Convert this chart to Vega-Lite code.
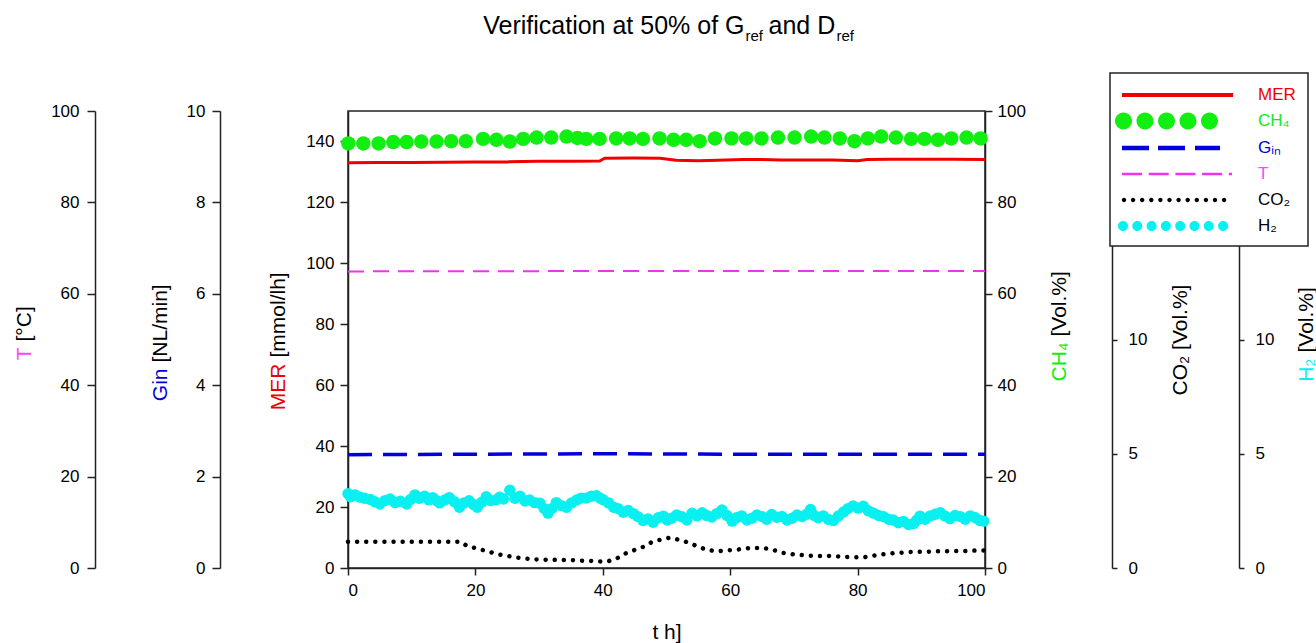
{
  "$schema": "https://vega.github.io/schema/vega-lite/v6.json",
  "width": 637,
  "height": 457,
  "autosize": {"type": "none"},
  "padding": {"left": 348, "top": 111, "right": 331, "bottom": 75},
  "background": "white",
  "config": {
    "font": "Liberation Sans",
    "view": {"stroke": "#222", "strokeWidth": 1.5},
    "axis": {"grid": false, "labelFont": "Liberation Sans", "titleFont": "Liberation Sans", "labelFontSize": 17, "labelColor": "black", "titleFontSize": 21, "titleFontWeight": "normal", "titleColor": "black", "domainColor": "#222", "domainWidth": 1.5, "tickColor": "#222", "tickWidth": 1.5, "tickSize": 8, "labelPadding": 6}
  },
  "datasets": {
    "mer": [{"t":0,"MER":133.0},{"t":5,"MER":133.1},{"t":10,"MER":133.1},{"t":15,"MER":133.2},{"t":20,"MER":133.3},{"t":25,"MER":133.3},{"t":30,"MER":133.5},{"t":35,"MER":133.5},{"t":39.5,"MER":133.6},{"t":40.3,"MER":134.5},{"t":45,"MER":134.6},{"t":49,"MER":134.5},{"t":51.5,"MER":133.8},{"t":55,"MER":133.7},{"t":58,"MER":133.8},{"t":62,"MER":134.1},{"t":65,"MER":134.1},{"t":68,"MER":133.9},{"t":72,"MER":133.9},{"t":76,"MER":133.9},{"t":80,"MER":133.7},{"t":81.5,"MER":134.1},{"t":85,"MER":134.2},{"t":90,"MER":134.2},{"t":95,"MER":134.2},{"t":100,"MER":134.1}],
    "ch4": [{"t":0.05,"CH4":92.9},{"t":2.4,"CH4":92.9},{"t":4.8,"CH4":92.9},{"t":7.1,"CH4":93.2},{"t":9.2,"CH4":93.2},{"t":11.5,"CH4":93.3},{"t":13.9,"CH4":93.3},{"t":16.2,"CH4":93.4},{"t":18.5,"CH4":93.4},{"t":21.2,"CH4":93.9},{"t":23.3,"CH4":93.7},{"t":25.4,"CH4":93.3},{"t":27.5,"CH4":93.9},{"t":29.6,"CH4":94.2},{"t":31.9,"CH4":94.2},{"t":34.3,"CH4":94.4},{"t":36.0,"CH4":94.1},{"t":37.4,"CH4":93.9},{"t":39.5,"CH4":93.9},{"t":42.1,"CH4":94.0},{"t":44.2,"CH4":94.0},{"t":46.3,"CH4":93.9},{"t":48.9,"CH4":94.0},{"t":51.1,"CH4":93.7},{"t":53.1,"CH4":93.7},{"t":55.2,"CH4":93.4},{"t":57.6,"CH4":94.0},{"t":60.2,"CH4":94.0},{"t":62.5,"CH4":94.0},{"t":64.9,"CH4":94.0},{"t":67.5,"CH4":94.2},{"t":70.1,"CH4":94.2},{"t":72.7,"CH4":94.4},{"t":74.8,"CH4":94.2},{"t":77.2,"CH4":94.0},{"t":79.5,"CH4":93.4},{"t":81.6,"CH4":94.0},{"t":83.7,"CH4":94.4},{"t":86.0,"CH4":94.2},{"t":88.4,"CH4":93.9},{"t":90.5,"CH4":93.9},{"t":92.6,"CH4":93.7},{"t":94.7,"CH4":94.0},{"t":97.1,"CH4":94.2},{"t":99.3,"CH4":94.0}],
    "temp": [{"t":0,"T":64.9},{"t":50,"T":65.0},{"t":100,"T":65.0}],
    "gin": [{"t":0,"Gin":2.48},{"t":40,"Gin":2.50},{"t":60,"Gin":2.49},{"t":100,"Gin":2.49}],
    "co2": [{"t":0,"CO2":1.15},{"t":17.7,"CO2":1.15},{"t":18.7,"CO2":0.96},{"t":20.3,"CO2":0.85},{"t":21.9,"CO2":0.73},{"t":23.4,"CO2":0.61},{"t":24.8,"CO2":0.54},{"t":26.2,"CO2":0.47},{"t":27.8,"CO2":0.42},{"t":29.1,"CO2":0.38},{"t":30.6,"CO2":0.36},{"t":31.9,"CO2":0.36},{"t":33.6,"CO2":0.35},{"t":35.0,"CO2":0.35},{"t":36.4,"CO2":0.32},{"t":37.9,"CO2":0.31},{"t":39.3,"CO2":0.29},{"t":40.7,"CO2":0.28},{"t":42.2,"CO2":0.42},{"t":43.6,"CO2":0.64},{"t":45.0,"CO2":0.79},{"t":46.4,"CO2":0.93},{"t":47.8,"CO2":1.15},{"t":49.3,"CO2":1.25},{"t":50.6,"CO2":1.33},{"t":52.0,"CO2":1.23},{"t":53.4,"CO2":1.12},{"t":55.0,"CO2":0.93},{"t":56.4,"CO2":0.79},{"t":57.9,"CO2":0.73},{"t":59.3,"CO2":0.77},{"t":60.7,"CO2":0.79},{"t":62.3,"CO2":0.85},{"t":63.6,"CO2":0.88},{"t":65.0,"CO2":0.88},{"t":66.5,"CO2":0.82},{"t":68.0,"CO2":0.67},{"t":69.5,"CO2":0.61},{"t":71.0,"CO2":0.57},{"t":72.3,"CO2":0.54},{"t":73.8,"CO2":0.53},{"t":75.3,"CO2":0.53},{"t":76.8,"CO2":0.51},{"t":78.2,"CO2":0.48},{"t":79.6,"CO2":0.47},{"t":81.0,"CO2":0.47},{"t":82.5,"CO2":0.54},{"t":84.0,"CO2":0.60},{"t":85.4,"CO2":0.64},{"t":86.8,"CO2":0.67},{"t":88.2,"CO2":0.70},{"t":89.7,"CO2":0.71},{"t":91.1,"CO2":0.71},{"t":92.6,"CO2":0.73},{"t":94.0,"CO2":0.73},{"t":95.4,"CO2":0.74},{"t":96.8,"CO2":0.74},{"t":98.2,"CO2":0.76},{"t":99.8,"CO2":0.77}],
    "h2": [{"t":0.0,"H2":3.25},{"t":0.4,"H2":3.12},{"t":1.1,"H2":3.2},{"t":1.9,"H2":3.1},{"t":2.6,"H2":3.05},{"t":3.5,"H2":3.0},{"t":4.2,"H2":2.9},{"t":5.0,"H2":2.8},{"t":5.8,"H2":2.95},{"t":6.6,"H2":3.02},{"t":7.4,"H2":2.86},{"t":8.2,"H2":2.92},{"t":9.2,"H2":2.8},{"t":9.8,"H2":3.0},{"t":10.5,"H2":3.2},{"t":11.2,"H2":3.05},{"t":12.0,"H2":3.14},{"t":12.7,"H2":2.98},{"t":13.3,"H2":3.08},{"t":14.0,"H2":2.93},{"t":14.4,"H2":2.85},{"t":15.2,"H2":2.98},{"t":15.9,"H2":3.08},{"t":16.7,"H2":2.9},{"t":17.5,"H2":2.66},{"t":18.2,"H2":2.85},{"t":19.0,"H2":2.94},{"t":19.7,"H2":2.78},{"t":20.3,"H2":2.66},{"t":21.0,"H2":2.88},{"t":21.7,"H2":3.12},{"t":22.4,"H2":2.95},{"t":23.2,"H2":2.98},{"t":23.8,"H2":3.1},{"t":24.4,"H2":3.02},{"t":25.4,"H2":3.4},{"t":26.2,"H2":3.05},{"t":27.0,"H2":3.14},{"t":27.8,"H2":2.93},{"t":28.5,"H2":2.98},{"t":29.3,"H2":2.86},{"t":30.1,"H2":2.84},{"t":30.8,"H2":2.6},{"t":31.4,"H2":2.4},{"t":32.0,"H2":2.6},{"t":32.7,"H2":2.86},{"t":33.5,"H2":2.73},{"t":34.3,"H2":2.66},{"t":35.1,"H2":2.85},{"t":35.9,"H2":2.98},{"t":36.6,"H2":3.06},{"t":37.4,"H2":3.06},{"t":38.2,"H2":3.14},{"t":39.0,"H2":3.16},{"t":39.6,"H2":3.05},{"t":40.1,"H2":2.98},{"t":40.9,"H2":2.85},{"t":41.7,"H2":2.66},{"t":42.4,"H2":2.6},{"t":43.2,"H2":2.44},{"t":44.0,"H2":2.52},{"t":44.8,"H2":2.38},{"t":45.5,"H2":2.25},{"t":46.3,"H2":2.08},{"t":47.1,"H2":2.15},{"t":47.9,"H2":2.0},{"t":48.7,"H2":2.2},{"t":49.5,"H2":2.27},{"t":50.1,"H2":2.1},{"t":50.8,"H2":2.18},{"t":51.6,"H2":2.32},{"t":52.4,"H2":2.24},{"t":53.2,"H2":2.1},{"t":54.0,"H2":2.4},{"t":54.8,"H2":2.28},{"t":55.6,"H2":2.42},{"t":56.3,"H2":2.3},{"t":57.1,"H2":2.23},{"t":57.9,"H2":2.38},{"t":58.7,"H2":2.54},{"t":59.5,"H2":2.3},{"t":60.3,"H2":2.05},{"t":61.0,"H2":2.2},{"t":61.8,"H2":2.28},{"t":62.6,"H2":2.1},{"t":63.4,"H2":2.18},{"t":64.2,"H2":2.32},{"t":65.0,"H2":2.25},{"t":65.7,"H2":2.13},{"t":66.5,"H2":2.34},{"t":67.3,"H2":2.22},{"t":68.1,"H2":2.26},{"t":68.9,"H2":2.1},{"t":69.7,"H2":2.18},{"t":70.5,"H2":2.32},{"t":71.3,"H2":2.25},{"t":72.0,"H2":2.35},{"t":72.6,"H2":2.56},{"t":73.2,"H2":2.3},{"t":73.8,"H2":2.2},{"t":74.6,"H2":2.28},{"t":75.4,"H2":2.13},{"t":76.2,"H2":2.08},{"t":77.0,"H2":2.28},{"t":77.8,"H2":2.45},{"t":78.5,"H2":2.6},{"t":79.3,"H2":2.72},{"t":80.1,"H2":2.62},{"t":80.9,"H2":2.7},{"t":81.7,"H2":2.5},{"t":82.5,"H2":2.4},{"t":83.3,"H2":2.3},{"t":84.1,"H2":2.24},{"t":84.9,"H2":2.13},{"t":85.6,"H2":2.1},{"t":86.4,"H2":1.98},{"t":87.2,"H2":2.04},{"t":88.0,"H2":1.9},{"t":88.8,"H2":1.95},{"t":89.3,"H2":2.1},{"t":89.8,"H2":2.27},{"t":90.6,"H2":2.13},{"t":91.4,"H2":2.28},{"t":92.2,"H2":2.35},{"t":93.0,"H2":2.42},{"t":93.7,"H2":2.28},{"t":94.5,"H2":2.16},{"t":95.3,"H2":2.3},{"t":96.1,"H2":2.25},{"t":96.9,"H2":2.13},{"t":97.7,"H2":2.28},{"t":98.5,"H2":2.2},{"t":99.2,"H2":2.08},{"t":99.8,"H2":2.05}],
    "legend": [{"series":"MER"},{"series":"CH₄"},{"series":"Gᵢₙ"},{"series":"T"},{"series":"CO₂"},{"series":"H₂"}]
  },
  "resolve": {"scale": {"y": "independent"}, "axis": {"x": "independent", "y": "independent"}},
  "layer": [
    {
      "data": {"name": "temp"},
      "mark": {"type": "line", "color": "#ee33ee", "strokeWidth": 2, "strokeDash": [16, 9]},
      "encoding": {
        "x": {"field": "t", "type": "quantitative", "scale": {"domain": [0, 100], "nice": false}, "axis": null},
        "y": {"field": "T", "type": "quantitative", "scale": {"domain": [0, 100], "nice": false},
          "axis": {"orient": "left", "offset": 253, "values": [0, 20, 40, 60, 80, 100], "labelPadding": 8, "title": "T", "titleColor": "#ff44ff", "titleAlign": "right", "titleX": -61, "titleY": 236, "titleAngle": 270, "titleBaseline": "bottom"}}
      }
    },
    {
      "data": {"name": "temp"},
      "mark": {"type": "line", "opacity": 0},
      "encoding": {
        "x": {"field": "t", "type": "quantitative", "scale": {"domain": [0, 100], "nice": false},
          "axis": {"orient": "top", "domain": false, "ticks": false, "labels": false, "title": "Verification at 50% of G", "titleFontSize": 25, "titleX": 396, "titleY": -78, "titleAlign": "right", "titleBaseline": "alphabetic", "titleAngle": 0}},
        "y": {"field": "T", "type": "quantitative", "scale": {"domain": [0, 100], "nice": false},
          "axis": {"orient": "left", "offset": 253, "domain": false, "ticks": false, "labels": false, "title": "[°C]", "titleAlign": "left", "titleX": -61, "titleY": 230, "titleAngle": 270, "titleBaseline": "bottom"}}
      }
    },
    {
      "data": {"name": "gin"},
      "mark": {"type": "line", "color": "#0000dd", "strokeWidth": 3.5, "strokeDash": [24, 11]},
      "encoding": {
        "x": {"field": "t", "type": "quantitative", "scale": {"domain": [0, 100], "nice": false}, "axis": null},
        "y": {"field": "Gin", "type": "quantitative", "scale": {"domain": [0, 10], "nice": false},
          "axis": {"orient": "left", "offset": 128, "values": [0, 2, 4, 6, 8, 10], "labelPadding": 7, "title": "Gin", "titleColor": "#0000dd", "titleAlign": "right", "titleX": -50, "titleY": 257, "titleAngle": 270, "titleBaseline": "bottom"}}
      }
    },
    {
      "data": {"name": "gin"},
      "mark": {"type": "line", "opacity": 0},
      "encoding": {
        "x": {"field": "t", "type": "quantitative", "scale": {"domain": [0, 100], "nice": false},
          "axis": {"orient": "top", "domain": false, "ticks": false, "labels": false, "title": "ref", "titleFontSize": 15, "titleX": 397, "titleY": -71, "titleAlign": "left", "titleBaseline": "alphabetic", "titleAngle": 0}},
        "y": {"field": "Gin", "type": "quantitative", "scale": {"domain": [0, 10], "nice": false},
          "axis": {"orient": "left", "offset": 128, "domain": false, "ticks": false, "labels": false, "title": "[NL/min]", "titleAlign": "left", "titleX": -50, "titleY": 251, "titleAngle": 270, "titleBaseline": "bottom"}}
      }
    },
    {
      "data": {"name": "mer"},
      "mark": {"type": "line", "color": "#ee0000", "strokeWidth": 3},
      "encoding": {
        "x": {"field": "t", "type": "quantitative", "scale": {"domain": [0, 100], "nice": false},
          "axis": {"orient": "bottom", "values": [0, 20, 40, 60, 80, 100], "tickSize": 7, "labelPadding": 7, "title": "t h]", "titleX": 318.5, "titleY": 70, "titleAlign": "center", "titleBaseline": "alphabetic"}},
        "y": {"field": "MER", "type": "quantitative", "scale": {"domain": [0, 150], "nice": false},
          "axis": {"orient": "left", "offset": 0, "values": [0, 20, 40, 60, 80, 100, 120, 140], "labelPadding": 6, "title": "MER", "titleColor": "#ee0000", "titleAlign": "right", "titleX": -60, "titleY": 252, "titleAngle": 270, "titleBaseline": "bottom"}}
      }
    },
    {
      "data": {"name": "mer"},
      "mark": {"type": "line", "opacity": 0},
      "encoding": {
        "x": {"field": "t", "type": "quantitative", "scale": {"domain": [0, 100], "nice": false},
          "axis": {"orient": "top", "domain": false, "ticks": false, "labels": false, "title": "and D", "titleFontSize": 25, "titleX": 420, "titleY": -78, "titleAlign": "left", "titleBaseline": "alphabetic", "titleAngle": 0}},
        "y": {"field": "MER", "type": "quantitative", "scale": {"domain": [0, 150], "nice": false},
          "axis": {"orient": "left", "offset": 0, "domain": false, "ticks": false, "labels": false, "title": "[mmol/lh]", "titleAlign": "left", "titleX": -60, "titleY": 246, "titleAngle": 270, "titleBaseline": "bottom"}}
      }
    },
    {
      "data": {"name": "ch4"},
      "mark": {"type": "point", "filled": true, "color": "#11ee11", "size": 210, "opacity": 1},
      "encoding": {
        "x": {"field": "t", "type": "quantitative", "scale": {"domain": [0, 100], "nice": false}, "axis": null},
        "y": {"field": "CH4", "type": "quantitative", "scale": {"domain": [0, 100], "nice": false},
          "axis": {"orient": "right", "offset": 0, "values": [0, 20, 40, 60, 80, 100], "tickSize": 7, "labelPadding": 5, "title": "CH₄", "titleColor": "#11ee11", "titleAlign": "right", "titleX": 84, "titleY": 231, "titleAngle": 270, "titleBaseline": "bottom"}}
      }
    },
    {
      "data": {"name": "ch4"},
      "mark": {"type": "point", "opacity": 0},
      "encoding": {
        "x": {"field": "t", "type": "quantitative", "scale": {"domain": [0, 100], "nice": false},
          "axis": {"orient": "top", "domain": false, "ticks": false, "labels": false, "title": "ref", "titleFontSize": 15, "titleX": 488, "titleY": -71, "titleAlign": "left", "titleBaseline": "alphabetic", "titleAngle": 0}},
        "y": {"field": "CH4", "type": "quantitative", "scale": {"domain": [0, 100], "nice": false},
          "axis": {"orient": "right", "offset": 0, "domain": false, "ticks": false, "labels": false, "title": "[Vol.%]", "titleAlign": "left", "titleX": 84, "titleY": 225, "titleAngle": 270, "titleBaseline": "bottom"}}
      }
    },
    {
      "data": {"name": "co2"},
      "mark": {"type": "line", "color": "black", "strokeWidth": 4.5, "strokeDash": [0.01, 9.1], "strokeCap": "round"},
      "encoding": {
        "x": {"field": "t", "type": "quantitative", "scale": {"domain": [0, 100], "nice": false}, "axis": null},
        "y": {"field": "CO2", "type": "quantitative", "scale": {"domain": [0, 20], "nice": false},
          "axis": {"orient": "right", "offset": 127, "values": [0, 5, 10, 15, 20], "tickSize": 5, "labelPadding": 11, "title": "CO₂ [Vol.%]", "titleX": 78, "titleY": 228.5, "titleAlign": "center", "titleAngle": 270, "titleBaseline": "bottom"}}
      }
    },
    {
      "data": {"name": "h2"},
      "mark": {"type": "point", "filled": true, "color": "#08f0f0", "size": 130, "opacity": 1},
      "encoding": {
        "x": {"field": "t", "type": "quantitative", "scale": {"domain": [0, 100], "nice": false}, "axis": null},
        "y": {"field": "H2", "type": "quantitative", "scale": {"domain": [0, 20], "nice": false},
          "axis": {"orient": "right", "offset": 254, "values": [0, 5, 10, 15, 20], "tickSize": 5, "labelPadding": 11, "title": "H₂", "titleColor": "#08f0f0", "titleAlign": "right", "titleX": 77, "titleY": 247, "titleAngle": 270, "titleBaseline": "bottom"}}
      }
    },
    {
      "data": {"name": "h2"},
      "mark": {"type": "point", "opacity": 0},
      "encoding": {
        "x": {"field": "t", "type": "quantitative", "scale": {"domain": [0, 100], "nice": false}, "axis": null},
        "y": {"field": "H2", "type": "quantitative", "scale": {"domain": [0, 20], "nice": false},
          "axis": {"orient": "right", "offset": 254, "domain": false, "ticks": false, "labels": false, "title": "[Vol.%]", "titleAlign": "left", "titleX": 77, "titleY": 241, "titleAngle": 270, "titleBaseline": "bottom"}}
      }
    },
    {
      "data": {"name": "legend"},
      "mark": {"type": "point", "filled": true, "opacity": 0},
      "encoding": {
        "color": {"field": "series", "type": "nominal",
          "scale": {"domain": ["MER", "CH₄", "Gᵢₙ", "T", "CO₂", "H₂"], "range": ["#ee0000", "#11ee11", "#0000dd", "#ee33ee", "black", "#08f0f0"]},
          "legend": {
            "orient": "none", "legendX": 762, "legendY": -38, "title": null, "direction": "vertical",
            "padding": 12, "fillColor": "white", "strokeColor": "#222", "cornerRadius": 0,
            "symbolSize": 400, "symbolStrokeWidth": 0, "symbolOpacity": 1, "symbolOffset": 45,
            "labelOffset": 71, "labelFontSize": 17, "labelFont": "Liberation Sans", "rowPadding": 8,
            "encode": {
              "legend": {"update": {"strokeWidth": {"value": 1.5}}},
              "symbols": {"update": {
                "opacity": {"value": 1},
                "fillOpacity": {"value": 1},
                "strokeWidth": {"value": 0},
                "size": {"value": 400},
                "fill": {"signal": "datum.value === 'MER' ? '#ee0000' : datum.value === 'CH₄' ? '#11ee11' : datum.value === 'Gᵢₙ' ? '#0000dd' : datum.value === 'T' ? '#ee33ee' : datum.value === 'CO₂' ? 'black' : '#08f0f0'"},
                "shape": {"signal": "datum.value === 'MER' ? 'M-5.5,-0.2L5.6,-0.2L5.6,0.2L-5.5,0.2Z' : datum.value === 'CH₄' ? 'M-6.2,0A0.85,0.85,0,1,0,-4.5,0A0.85,0.85,0,1,0,-6.2,0ZM-4.05,0A0.85,0.85,0,1,0,-2.35,0A0.85,0.85,0,1,0,-4.05,0ZM-1.9,0A0.85,0.85,0,1,0,-0.2,0A0.85,0.85,0,1,0,-1.9,0ZM0.25,0A0.85,0.85,0,1,0,1.95,0A0.85,0.85,0,1,0,0.25,0ZM2.4,0A0.85,0.85,0,1,0,4.1,0A0.85,0.85,0,1,0,2.4,0Z' : datum.value === 'Gᵢₙ' ? 'M-5.5,-0.22L-2.8,-0.22L-2.8,0.22L-5.5,0.22ZM-1.9,-0.22L0.8,-0.22L0.8,0.22L-1.9,0.22ZM1.8,-0.22L4.3,-0.22L4.3,0.22L1.8,0.22Z' : datum.value === 'T' ? 'M-5.5,-0.13L-3.5,-0.13L-3.5,0.13L-5.5,0.13ZM-2.83,-0.13L-0.83,-0.13L-0.83,0.13L-2.83,0.13ZM-0.16,-0.13L1.84,-0.13L1.84,0.13L-0.16,0.13ZM2.51,-0.13L4.51,-0.13L4.51,0.13L2.51,0.13ZM5.18,-0.13L5.5,-0.13L5.5,0.13L5.18,0.13Z' : datum.value === 'CO₂' ? 'M-5.52,0A0.22,0.22,0,1,0,-5.08,0A0.22,0.22,0,1,0,-5.52,0ZM-4.61,0A0.22,0.22,0,1,0,-4.17,0A0.22,0.22,0,1,0,-4.61,0ZM-3.7,0A0.22,0.22,0,1,0,-3.26,0A0.22,0.22,0,1,0,-3.7,0ZM-2.79,0A0.22,0.22,0,1,0,-2.35,0A0.22,0.22,0,1,0,-2.79,0ZM-1.88,0A0.22,0.22,0,1,0,-1.44,0A0.22,0.22,0,1,0,-1.88,0ZM-0.97,0A0.22,0.22,0,1,0,-0.53,0A0.22,0.22,0,1,0,-0.97,0ZM-0.06,0A0.22,0.22,0,1,0,0.38,0A0.22,0.22,0,1,0,-0.06,0ZM0.85,0A0.22,0.22,0,1,0,1.29,0A0.22,0.22,0,1,0,0.85,0ZM1.76,0A0.22,0.22,0,1,0,2.2,0A0.22,0.22,0,1,0,1.76,0ZM2.67,0A0.22,0.22,0,1,0,3.11,0A0.22,0.22,0,1,0,2.67,0ZM3.58,0A0.22,0.22,0,1,0,4.02,0A0.22,0.22,0,1,0,3.58,0ZM4.49,0A0.22,0.22,0,1,0,4.93,0A0.22,0.22,0,1,0,4.49,0Z' : 'M-5.9,0A0.5,0.5,0,1,0,-4.9,0A0.5,0.5,0,1,0,-5.9,0ZM-4.47,0A0.5,0.5,0,1,0,-3.47,0A0.5,0.5,0,1,0,-4.47,0ZM-3.04,0A0.5,0.5,0,1,0,-2.04,0A0.5,0.5,0,1,0,-3.04,0ZM-1.61,0A0.5,0.5,0,1,0,-0.61,0A0.5,0.5,0,1,0,-1.61,0ZM-0.18,0A0.5,0.5,0,1,0,0.82,0A0.5,0.5,0,1,0,-0.18,0ZM1.25,0A0.5,0.5,0,1,0,2.25,0A0.5,0.5,0,1,0,1.25,0ZM2.68,0A0.5,0.5,0,1,0,3.68,0A0.5,0.5,0,1,0,2.68,0ZM4.11,0A0.5,0.5,0,1,0,5.11,0A0.5,0.5,0,1,0,4.11,0Z'"}
              }},
              "labels": {"update": {
                "fill": {"signal": "datum.value === 'MER' ? '#ee0000' : datum.value === 'CH₄' ? '#11ee11' : datum.value === 'Gᵢₙ' ? '#0000dd' : datum.value === 'T' ? '#ff44ff' : 'black'"}
              }}
            }
          }
        }
      }
    }
  ]
}
